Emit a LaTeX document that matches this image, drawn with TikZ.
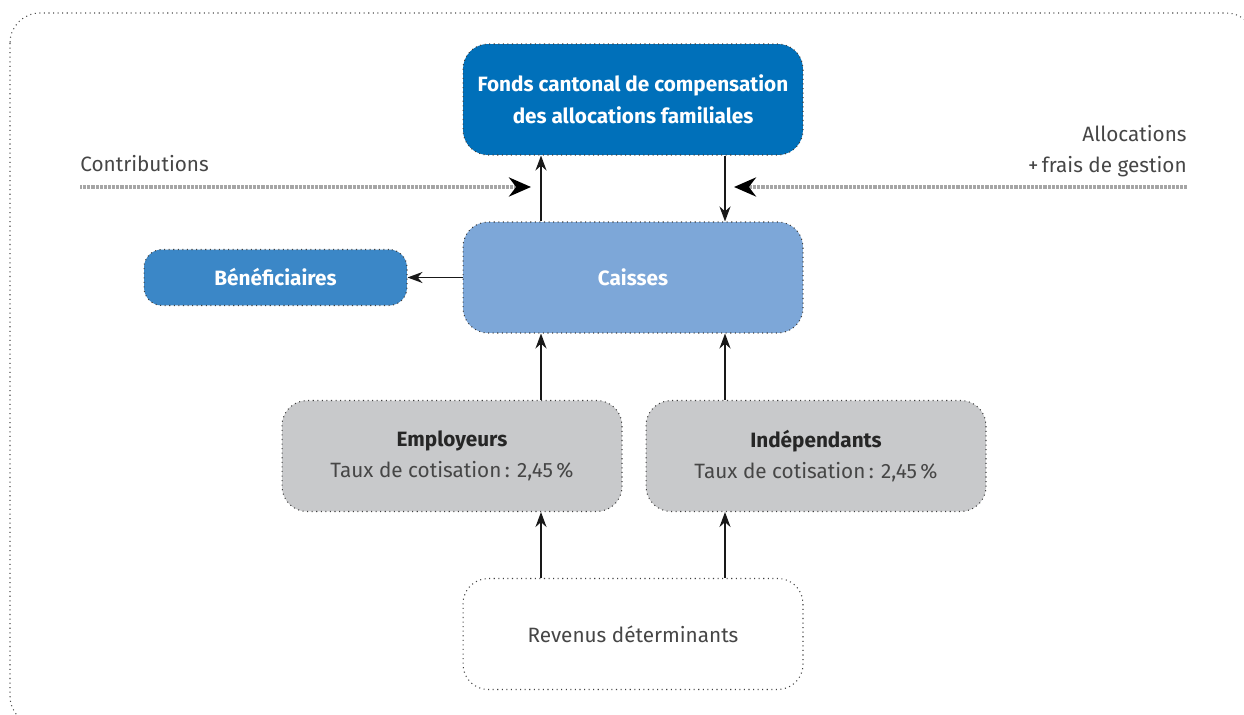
\documentclass[tikz,border=0pt]{standalone}
\usepackage{fontspec}
\setmainfont{Fira Sans}
\usetikzlibrary{positioning}
\usetikzlibrary{arrows,arrows.meta}
\definecolor{fondsblue}{RGB}{0,112,186}
\definecolor{caisseblue}{RGB}{125,167,216}
\definecolor{benefblue}{RGB}{59,135,199}
\definecolor{boxgray}{RGB}{200,201,203}
\definecolor{textgray}{RGB}{70,70,70}
\tikzset{
  flowbox/.style={
    rounded corners=0.5cm,
    draw=black!75, dotted, line width=0.6pt,
    minimum width=6.8cm,
    minimum height=2.22cm,
    align=center,
    text=textgray,
    font=\fontsize{11.8}{18}\selectfont
  },
  fonds/.style={flowbox, fill=fondsblue, text=white,
    font=\bfseries\fontsize{11.8}{18}\selectfont},
  caisse/.style={flowbox, fill=caisseblue, text=white,
    font=\bfseries\fontsize{11.8}{18}\selectfont},
  benef/.style={flowbox, fill=benefblue, text=white,
    rounded corners=0.36cm,
    minimum width=5.26cm, minimum height=1.12cm,
    font=\bfseries\fontsize{11.8}{18}\selectfont},
  payer/.style={flowbox, fill=boxgray},
  money/.style={
    line width=2.2pt, draw=gray!70,
    dash pattern=on 0.5pt off 0.25pt,
    -{Stealth[length=4.4mm,width=3.8mm,black]}
  },
  link/.style={
    line width=1.1pt, black!90,
    -{Stealth[length=3mm,width=2.2mm]}
  },
  side label/.style={
    inner sep=0pt, text=textgray,
    font=\fontsize{11.8}{17.5}\selectfont
  }
}

\begin{document}
\begin{tikzpicture}[x=0.02cm,y=-0.02cm]
  \useasboundingbox (0,0) rectangle (1244,715);
  \draw[black!70, dotted, line width=0.6pt, rounded corners=0.6cm]
    (10,13) rectangle (1256,726);

  % boxes
  \node[fonds]  (fonds)   at (633,99.5) {Fonds cantonal de compensation\\des allocations familiales};
  \node[caisse] (caisses) at (633,277.5) {Caisses};
  \node[benef]  (benef)   at (275.5,277.5) {Bénéficiaires};
  \node[payer]  (emp)     at (452,456) {\textbf{\color{black!85}Employeurs}\\Taux de cotisation\,: 2,45\,\%};
  \node[payer]  (indep)   at (816,456) {\textbf{\color{black!85}Indépendants}\\Taux de cotisation\,: 2,45\,\%};
  \node[flowbox,fill=white] (revenus) at (633,634) {Revenus déterminants};

  % columns of the arrows
  \coordinate (up)   at (541,0);
  \coordinate (down) at (725,0);

  \draw[link] (caisses.north -| up) -- (fonds.south -| up);
  \draw[link] (fonds.south -| down) -- (caisses.north -| down);
  \draw[link] (caisses.west) -- (benef.east);
  \draw[link] (emp.north -| up) -- (caisses.south -| up);
  \draw[link] (indep.north -| down) -- (caisses.south -| down);
  \draw[link] (revenus.north -| up) -- (emp.south -| up);
  \draw[link] (revenus.north -| down) -- (indep.south -| down);

  % money flows
  \coordinate (contrib from) at (80,187);
  \coordinate (contrib to)   at (531,187);
  \coordinate (alloc from)   at (1187,187);
  \coordinate (alloc to)     at (734,187);
  \draw[money] (contrib from) -- (contrib to);
  \draw[money] (alloc from) -- (alloc to);

  \node[side label, anchor=base west] (contrib) at (80,172) {Contributions};
  \node[side label, anchor=south east, align=right] (alloc) at (1187,177) {Allocations\\+\,frais de gestion};
\end{tikzpicture}
\end{document}
